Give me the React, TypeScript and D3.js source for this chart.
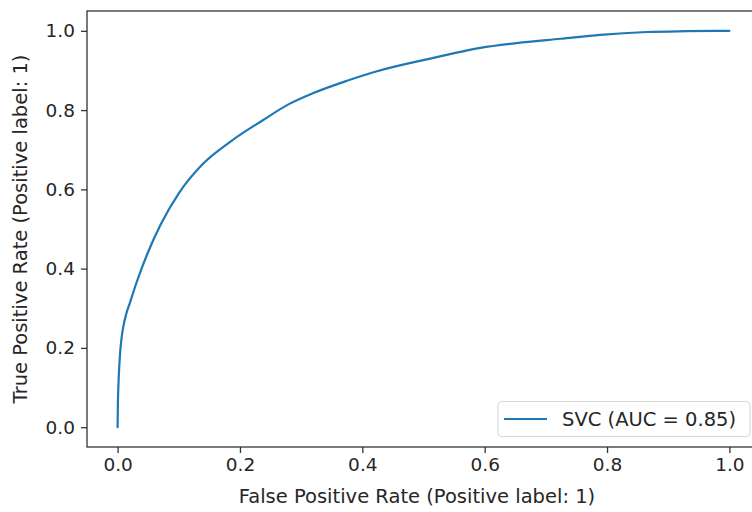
import React, { useEffect, useRef } from 'react';
import * as d3 from 'd3';

// ROC curve points
const fprValues = [0, 0.0005, 0.001, 0.002, 0.004, 0.0065, 0.0095, 0.014, 0.02, 0.031, 0.048, 0.07, 0.1, 0.14, 0.184, 0.238, 0.28, 0.32, 0.375, 0.424, 0.511, 0.593, 0.658, 0.724, 0.789, 0.865, 0.93, 1.0];
const tprValues = [0, 0.06, 0.09, 0.13, 0.185, 0.225, 0.255, 0.285, 0.313, 0.365, 0.435, 0.51, 0.59, 0.665, 0.72, 0.775, 0.815, 0.843, 0.874, 0.898, 0.93, 0.957, 0.97, 0.98, 0.99, 0.997, 0.999, 1.0];
const tickValues = [0, 0.2, 0.4, 0.6, 0.8, 1.0];
const seriesLabel = 'SVC (AUC = 0.85)';
const xLabel = 'False Positive Rate (Positive label: 1)';
const yLabel = 'True Positive Rate (Positive label: 1)';

const WIDTH = 752;
const HEIGHT = 512;
const FONT = 'DejaVu Sans, sans-serif';
const TEXT_COLOR = '#262626';
const SPINE_COLOR = '#333333';

const RocChart: React.FC = () => {
  const svgRef = useRef<SVGSVGElement>(null);

  useEffect(() => {
    if (!svgRef.current) return;
    const svg = d3.select(svgRef.current);
    svg.selectAll('*').remove();

    const left = 87;
    const top = 11;
    const right = 760;
    const bottom = 447;

    const x = d3.scaleLinear().domain([-0.05, 1.05]).range([left, right]);
    const y = d3.scaleLinear().domain([-0.05, 1.05]).range([bottom, top]);

    const points = fprValues.map((f, i) => [f, tprValues[i]] as [number, number]);

    // curve
    const line = d3.line<[number, number]>()
      .x(d => x(d[0]))
      .y(d => y(d[1]))
      .curve(d3.curveMonotoneX);

    svg.append('path')
      .datum(points)
      .attr('fill', 'none')
      .attr('stroke', '#1f77b4')
      .attr('stroke-width', 2.2)
      .attr('stroke-linejoin', 'round')
      .attr('stroke-linecap', 'round')
      .attr('d', line);

    // spines
    svg.append('rect')
      .attr('x', left)
      .attr('y', top)
      .attr('width', right - left)
      .attr('height', bottom - top)
      .attr('fill', 'none')
      .attr('stroke', SPINE_COLOR)
      .attr('stroke-width', 1.3);

    // axes
    const xAxis = svg.append('g')
      .attr('transform', `translate(0,${bottom})`)
      .call(d3.axisBottom(x).tickValues(tickValues).tickSize(6).tickPadding(5).tickFormat(d3.format('.1f')));
    const yAxis = svg.append('g')
      .attr('transform', `translate(${left},0)`)
      .call(d3.axisLeft(y).tickValues(tickValues).tickSize(6).tickPadding(6).tickFormat(d3.format('.1f')));

    [xAxis, yAxis].forEach(ax => {
      ax.select('.domain').remove();
      ax.selectAll('.tick line').attr('stroke', SPINE_COLOR).attr('stroke-width', 1.3);
      ax.selectAll('.tick text')
        .attr('fill', TEXT_COLOR)
        .style('font-family', FONT)
        .style('font-size', '18.5px');
    });

    // axis labels
    svg.append('text')
      .attr('x', 417)
      .attr('y', 503)
      .attr('text-anchor', 'middle')
      .attr('fill', TEXT_COLOR)
      .style('font-family', FONT)
      .style('font-size', '19.5px')
      .text(xLabel);

    svg.append('text')
      .attr('transform', `translate(27,${(top + bottom) / 2}) rotate(-90)`)
      .attr('text-anchor', 'middle')
      .attr('fill', TEXT_COLOR)
      .style('font-family', FONT)
      .style('font-size', '19.5px')
      .text(yLabel);

    // legend
    const legend = svg.append('g');
    legend.append('rect')
      .attr('x', 498)
      .attr('y', 401.5)
      .attr('width', 252)
      .attr('height', 35)
      .attr('rx', 4)
      .attr('fill', '#ffffff')
      .attr('fill-opacity', 0.8)
      .attr('stroke', '#d9d9d9')
      .attr('stroke-width', 1.2);
    legend.append('line')
      .attr('x1', 504)
      .attr('x2', 547)
      .attr('y1', 419)
      .attr('y2', 419)
      .attr('stroke', '#1f77b4')
      .attr('stroke-width', 2.2);
    legend.append('text')
      .attr('x', 562)
      .attr('y', 419)
      .attr('dy', '0.35em')
      .attr('fill', TEXT_COLOR)
      .style('font-family', FONT)
      .style('font-size', '19.5px')
      .text(seriesLabel);
  }, []);

  return (
    <svg
      ref={svgRef}
      width={WIDTH}
      height={HEIGHT}
      style={{ position: 'absolute', left: 0, top: 0, display: 'block', background: '#ffffff' }}
    />
  );
};

export default function App() {
  return <RocChart />;
}
